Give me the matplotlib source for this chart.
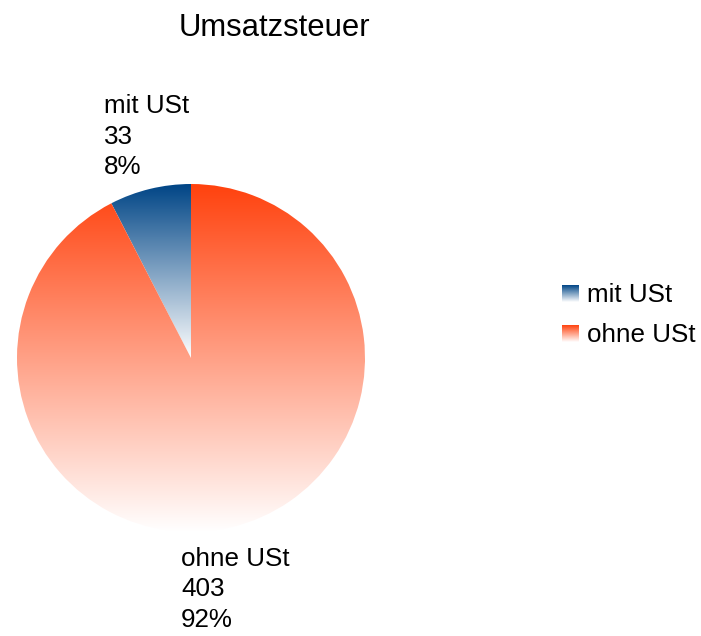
import numpy as np
import matplotlib
matplotlib.use("Agg")
import matplotlib.pyplot as plt
from matplotlib.colors import LinearSegmentedColormap

categories = ["mit USt", "ohne USt"]
values = [33, 403]
colors = ["#004586", "#ff420e"]
title = "Umsatzsteuer"

W, H = 701, 636
plt.rcParams['font.family'] = ['Liberation Sans', 'DejaVu Sans']
fig = plt.figure(figsize=(W / 100, H / 100), dpi=100)
ax = fig.add_axes([0, 0, 1, 1])

cx, cy, r = 191, H - 358, 174
wedges, _ = ax.pie(values, center=(cx, cy), radius=r, startangle=90,
                   counterclock=True, frame=True,
                   wedgeprops=dict(edgecolor="none"))
ax.set_xlim(0, W)
ax.set_ylim(0, H)
ax.set_aspect("equal")
ax.axis("off")

grad = np.linspace(0, 1, 256).reshape(-1, 1)
for w, c in zip(wedges, colors):
    cmap = LinearSegmentedColormap.from_list("g", [c, "#ffffff"])
    ext = w.get_path().get_extents()
    w.set_facecolor("none")
    im = ax.imshow(grad, cmap=cmap, aspect="auto", origin="upper",
                   extent=[ext.x0, ext.x1, ext.y0, ext.y1], zorder=1,
                   interpolation="bilinear")
    im.set_clip_path(w)
ax.set_xlim(0, W)
ax.set_ylim(0, H)

fs = 18.7
total = sum(values)
label_pos = [(104, 113), (181, 566)]
for (lx, ly), cat, v in zip(label_pos, categories, values):
    lines = [cat, f"{v}", f"{round(100 * v / total)}%"]
    for i, t in enumerate(lines):
        ax.text(lx, H - (ly + i * 30.5), t, fontsize=fs, ha="left", va="baseline",
                color="black")

ax.text(274, H - 36, title, fontsize=22.3, ha="center", va="baseline")

# legend
leg_y = [285, 325]
for yy, cat, c in zip(leg_y, categories, colors):
    cmap = LinearSegmentedColormap.from_list("g", [c, "#ffffff"])
    ax.imshow(grad, cmap=cmap, aspect="auto", origin="upper",
              extent=[562, 579, H - (yy + 17), H - yy], zorder=2)
    ax.text(587, H - (yy + 17), cat, fontsize=fs, ha="left", va="baseline")
ax.set_xlim(0, W)
ax.set_ylim(0, H)

fig.savefig("out.png", dpi=100, facecolor="white")
